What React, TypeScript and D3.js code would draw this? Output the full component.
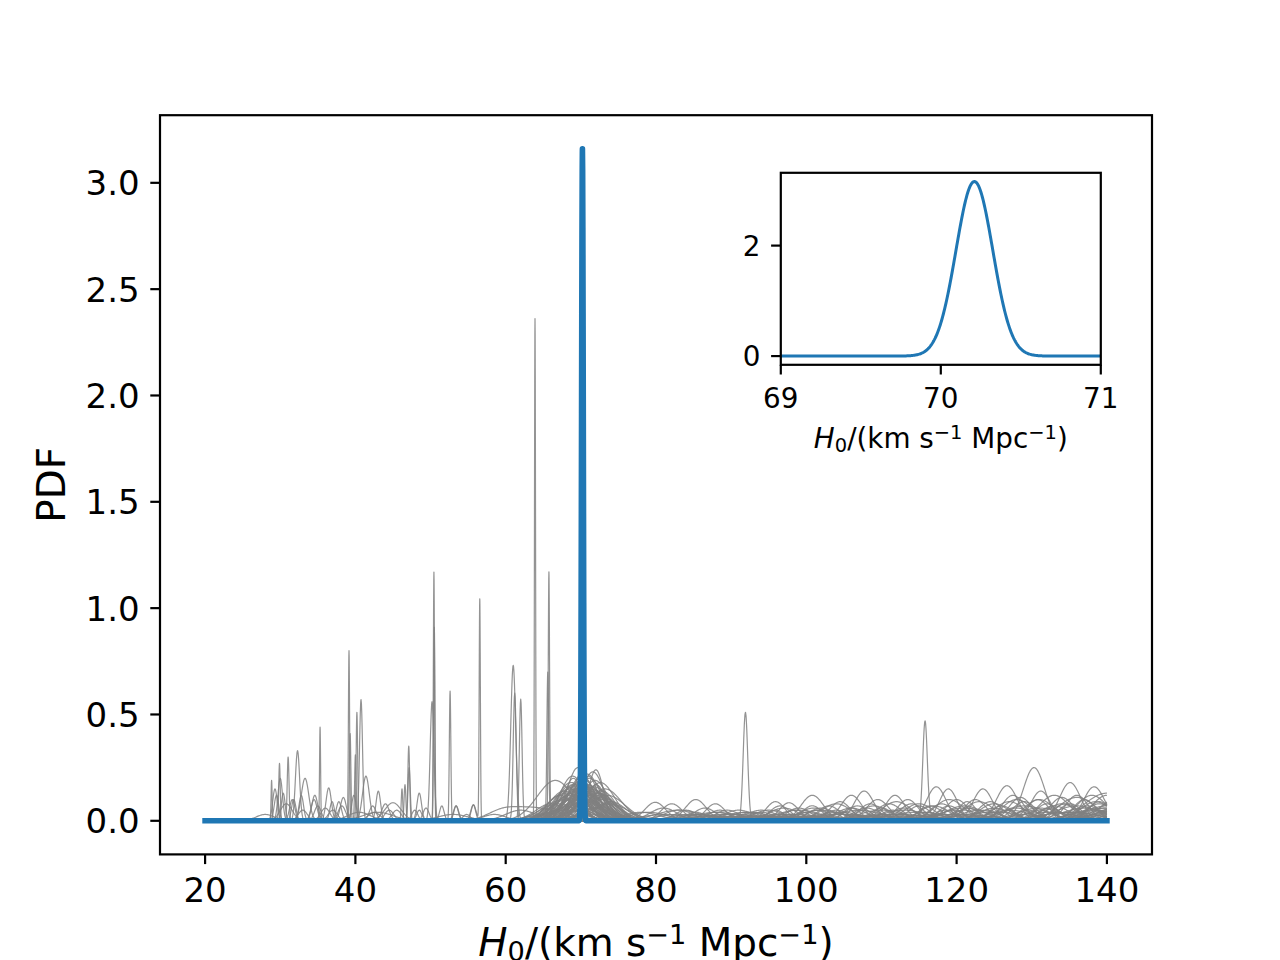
import React from 'react';
import * as d3 from 'd3';

const W = 1280;
const H = 960;

// tick values
const xTicks = [20, 40, 60, 80, 100, 120, 140];
const yTicks = [0, 0.5, 1.0, 1.5, 2.0, 2.5, 3.0];
const insetXTicks = [69, 70, 71];
const insetYTicks = [0, 2];

// combined posterior: [centre, width, peak height]
const bluePeak: number[] = [70.21, 0.115, 3.16];

// individual event PDFs, each a list of bumps [centre, width, peak height]
const spikeCurves: number[][][] = [
  [[63.9, 0.07, 2.35], [67, 2, 0.04], [110, 5, 0.02]],
  [[65.75, 0.09, 1.17], [72, 2, 0.06], [98, 5, 0.02]],
  [[50.45, 0.08, 1.17], [48.5, 0.35, 0.05]],
  [[50.5, 0.09, 0.91], [53.4, 0.35, 0.07]],
  [[56.55, 0.08, 1.04], [55.7, 0.35, 0.075]],
  [[61.0, 0.33, 0.73], [68, 2.5, 0.05]],
  [[61.2, 0.2, 0.6], [70, 2, 0.05]],
  [[62.0, 0.18, 0.57], [66, 1.5, 0.06]],
  [[65.6, 0.12, 0.68], [69, 2, 0.08]],
  [[39.15, 0.08, 0.8], [42.5, 0.8, 0.04]],
  [[39.3, 0.1, 0.41], [37, 0.6, 0.05]],
  [[40.2, 0.1, 0.51], [44.5, 0.6, 0.05]],
  [[40.75, 0.2, 0.57], [43.05, 0.3, 0.14]],
  [[35.3, 0.07, 0.44], [33, 0.6, 0.05]],
  [[32.3, 0.28, 0.33], [34.5, 0.4, 0.1]],
  [[31.05, 0.12, 0.3], [29.5, 0.3, 0.12]],
  [[29.9, 0.1, 0.27], [31.8, 0.3, 0.1]],
  [[28.85, 0.07, 0.19], [30.4, 0.25, 0.13]],
  [[52.6, 0.1, 0.61], [54.8, 0.5, 0.03]],
  [[50.2, 0.25, 0.56], [47.9, 0.4, 0.05]],
  [[47.1, 0.12, 0.35], [45.5, 0.6, 0.05]],
  [[47.15, 0.15, 0.25], [46.2, 0.1, 0.15]],
  [[91.9, 0.3, 0.51], [95.9, 1.2, 0.05], [120, 5, 0.02]],
  [[115.8, 0.3, 0.46], [118.5, 1.5, 0.05], [100, 5, 0.02]],
  [[40.0, 0.1, 0.31], [38.2, 0.5, 0.07]],
  [[46.6, 0.12, 0.17], [41.4, 0.45, 0.21]],
];

const leftCurves: number[][][] = [
  [[33.3, 0.5, 0.2], [36.0, 0.6, 0.06]],
  [[36.45, 0.35, 0.155], [30.0, 0.3, 0.2]],
  [[34.6, 0.4, 0.12], [37.8, 0.35, 0.09]],
  [[38.4, 0.4, 0.11], [42.3, 0.45, 0.07]],
  [[45.0, 1.1, 0.085], [48.5, 0.3, 0.13]],
  [[31.6, 0.35, 0.1], [35.0, 0.45, 0.07]],
  [[51.5, 0.3, 0.07], [58.5, 1.5, 0.03]],
  [[29.3, 0.3, 0.15], [32.8, 0.3, 0.12]],
  [[36.9, 0.3, 0.09], [39.8, 0.3, 0.12]],
  [[28, 1.2, 0.03], [43, 2, 0.04], [53, 2, 0.03]],
  [[30.8, 0.8, 0.08], [40.5, 1.5, 0.04]],
  [[44.0, 0.5, 0.08], [49.4, 0.4, 0.06]],
  [[53.4, 0.3, 0.07], [59.5, 2, 0.04], [64, 3, 0.06]],
  [[55.7, 0.3, 0.075], [62, 2, 0.05]],
];

const broadCurves: number[][][] = [
  [[69.6, 1.4, 0.25], [78, 2.5, 0.04], [85.3, 1.3, 0.04], [112, 4, 0.03]],
  [[71.6, 1.5, 0.23], [100.8, 1.3, 0.07], [126.7, 1.5, 0.05], [88, 5, 0.02]],
  [[70.8, 1.8, 0.22], [106.0, 1.2, 0.06], [135.1, 1.5, 0.08], [120, 5, 0.03]],
  [[68.9, 1.7, 0.21], [121.4, 1.2, 0.09], [146, 3, 0.1], [95, 6, 0.02]],
  [[66.6, 2.4, 0.19], [130.3, 1.4, 0.25], [110, 6, 0.02]],
  [[72.6, 1.9, 0.18], [146, 3, 0.24], [118, 5, 0.03]],
  [[70.2, 2.4, 0.16], [117.3, 1.3, 0.16], [98, 1.5, 0.03], [135, 4, 0.04]],
  [[69.0, 1.2, 0.2], [107.7, 1.3, 0.14], [79, 2.5, 0.04]],
  [[71.0, 1.3, 0.21], [111.8, 1.3, 0.12], [90, 2, 0.02], [132, 4, 0.04]],
  [[67.8, 2.0, 0.14], [118.9, 1.2, 0.15], [83, 3, 0.03]],
  [[73.2, 2.2, 0.15], [123.5, 1.3, 0.15], [104, 5, 0.03]],
  [[70.4, 1.6, 0.2], [126.7, 1.4, 0.165], [92, 5, 0.02]],
  [[69.2, 2.0, 0.17], [135.1, 1.4, 0.18], [112, 5, 0.03]],
  [[71.9, 1.7, 0.19], [138.3, 1.4, 0.16], [86, 3, 0.03]],
  [[68.3, 1.5, 0.16], [100.8, 1.5, 0.12], [131.2, 1.3, 0.14]],
  [[70.0, 1.1, 0.22], [106, 1.4, 0.12], [125, 5, 0.04]],
  [[72.2, 2.5, 0.13], [95.9, 1.3, 0.09], [121, 2, 0.05], [140, 3, 0.06]],
  [[67.2, 1.8, 0.12], [97.7, 1.3, 0.085], [128, 2, 0.06]],
  [[69.8, 1.9, 0.18], [79.9, 1.4, 0.087], [116, 2, 0.04], [138, 3, 0.05]],
  [[71.3, 2.1, 0.15], [82.1, 1.4, 0.08], [133, 2, 0.07], [105, 4, 0.03]],
  [[70.6, 1.4, 0.19], [87.9, 1.3, 0.08], [125, 2, 0.06]],
  [[68.5, 2.2, 0.15], [85.3, 1.4, 0.1], [140, 2, 0.12], [110, 4, 0.03]],
  [[73.0, 1.5, 0.12], [92, 2, 0.04], [110, 1.5, 0.06], [146, 3, 0.13]],
  [[69.4, 2.6, 0.14], [103, 1.5, 0.07], [119, 1.5, 0.07], [135, 4, 0.04]],
  [[70.9, 2.0, 0.17], [108, 1.8, 0.06], [137, 1.5, 0.1]],
  [[67.9, 1.3, 0.11], [114, 1.6, 0.08], [129, 1.6, 0.09], [90, 5, 0.03]],
  [[71.7, 2.3, 0.16], [99, 1.6, 0.06], [122.5, 1.5, 0.1]],
  [[69.9, 1.7, 0.2], [104.5, 1.4, 0.09], [134, 1.6, 0.11], [81, 3, 0.03]],
  [[72.8, 1.8, 0.14], [88.5, 1.5, 0.05], [113.5, 1.4, 0.1], [140, 3, 0.07]],
  [[68.1, 2.6, 0.13], [95, 2, 0.05], [127.5, 1.5, 0.12]],
  [[70.3, 1.3, 0.18], [101.5, 1.5, 0.05], [146, 3, 0.15], [120, 5, 0.03]],
  [[71.1, 1.9, 0.2], [84, 1.5, 0.05], [118, 1.6, 0.08], [139, 1.5, 0.09]],
  [[69.1, 2.3, 0.16], [109.5, 1.5, 0.1], [132, 1.5, 0.08]],
  [[70.7, 2.7, 0.12], [91, 2, 0.05], [124.5, 1.6, 0.09], [140, 3, 0.05]],
  [[72.0, 1.4, 0.17], [96.5, 1.4, 0.07], [136, 1.5, 0.12]],
  [[68.7, 1.9, 0.18], [106.8, 1.6, 0.07], [146, 3, 0.12], [85, 3, 0.03]],
  [[70.1, 2.1, 0.15], [81, 1.8, 0.06], [115, 1.5, 0.07], [130.8, 1.5, 0.1]],
  [[71.4, 1.6, 0.16], [102, 1.8, 0.06], [120, 1.5, 0.1], [140, 4, 0.06]],
  [[69.6, 2.8, 0.11], [93, 2, 0.04], [111, 1.7, 0.08], [141, 2, 0.1]],
  [[67.5, 2.2, 0.1], [86.5, 1.5, 0.06], [126, 1.6, 0.07]],
  [[73.5, 2.4, 0.12], [104, 1.6, 0.05], [134.5, 1.7, 0.08]],
  [[70.0, 1.8, 0.19], [116.5, 1.6, 0.07], [146, 3, 0.09]],
  [[71.8, 2.0, 0.14], [98.5, 1.8, 0.05], [128.5, 1.5, 0.11]],
  [[68.9, 1.6, 0.17], [89.5, 1.6, 0.05], [108.5, 1.5, 0.08], [137.5, 1.6, 0.07]],
  [[70.5, 2.2, 0.14], [121.5, 1.6, 0.06], [146, 3, 0.07]],
  [[72.4, 1.7, 0.13], [83, 2, 0.05], [113, 1.8, 0.06], [132.5, 1.6, 0.06]],
  [[69.3, 1.5, 0.15], [94, 1.8, 0.04], [124, 1.7, 0.05], [145, 3, 0.06]],
  [[70.8, 2.5, 0.1], [105, 2, 0.04], [139, 2, 0.08]],
  [[66.0, 2.0, 0.08], [100, 2, 0.04], [119.5, 1.6, 0.05]],
  [[74.0, 2.0, 0.09], [88, 2, 0.04], [111.5, 1.6, 0.05], [129.5, 1.7, 0.05]],
  [[69.0, 3.0, 0.07], [98, 4, 0.03], [127, 3, 0.05]],
  [[71.5, 3.2, 0.06], [90, 4, 0.03], [137, 3, 0.06]],
  [[68.0, 3.5, 0.05], [115, 4, 0.04]],
  [[72.0, 1.0, 0.24], [103.5, 2, 0.04], [131, 2, 0.05]],
  [[70.6, 1.2, 0.2], [96, 3, 0.03], [123, 2.5, 0.05]],
];

const rightCurves: number[][][] = [
  [[71.0, 2.0, 0.1], [128, 2, 0.1], [146, 4, 0.14]],
  [[69.5, 2.0, 0.12], [112, 2, 0.09], [140, 3, 0.13]],
  [[72.5, 2.5, 0.1], [119, 2, 0.1], [138, 2, 0.12]],
  [[68.0, 2.0, 0.1], [104, 2, 0.08], [133, 2, 0.12]],
  [[70.5, 1.6, 0.14], [123, 2, 0.09], [146, 5, 0.1]],
  [[71.2, 2.0, 0.12], [109, 2, 0.07], [136, 2.5, 0.11]],
  [[69.8, 2.2, 0.13], [97, 2, 0.06], [127, 2, 0.09], [146, 4, 0.12]],
  [[72.9, 2.0, 0.11], [115, 2, 0.08], [142, 3, 0.1]],
  [[70.2, 1.5, 0.17], [101, 2, 0.06], [131, 2, 0.1]],
  [[68.6, 2.4, 0.12], [121, 2.5, 0.07], [146, 5, 0.11]],
  [[71.6, 1.8, 0.15], [106, 2, 0.06], [138.5, 2, 0.09]],
  [[69.9, 2.6, 0.1], [88, 3, 0.04], [117, 2, 0.07], [146, 4, 0.08]],
  [[70.9, 1.7, 0.16], [94, 2, 0.05], [125, 2, 0.08]],
  [[73.8, 2.5, 0.08], [102, 3, 0.05], [134, 2, 0.08]],
  [[67.0, 2.5, 0.08], [110, 3, 0.05], [146, 5, 0.09]],
  [[70.4, 2.0, 0.13], [83, 3, 0.05], [129, 3, 0.07]],
  [[71.9, 2.4, 0.11], [99, 3, 0.05], [142, 3, 0.07]],
  [[69.3, 1.8, 0.15], [113, 3, 0.05], [136, 3, 0.07]],
  [[70.7, 3.0, 0.09], [92, 3, 0.04], [121, 3, 0.06], [146, 5, 0.07]],
  [[72.3, 1.6, 0.12], [107, 3, 0.05], [131, 3, 0.06]],
];

const allGray = [...broadCurves, ...rightCurves, ...leftCurves, ...spikeCurves];

function density(comps: number[][], x: number): number {
  let s = 0;
  for (const [m, sd, a] of comps) {
    const z = (x - m) / sd;
    if (Math.abs(z) < 10) s += a * Math.exp(-0.5 * z * z);
  }
  return s;
}

function gridFor(comps: number[][], lo: number, hi: number, step: number): number[] {
  const xs: number[] = d3.range(lo, hi + step / 2, step);
  for (const [m, sd] of comps) {
    if (m > lo && m < hi) {
      xs.push(m);
      if (sd < 0.5) {
        for (let k = -4; k <= 4; k += 0.25) {
          const v = m + k * sd;
          if (v > lo && v < hi) xs.push(v);
        }
      }
    }
  }
  xs.sort((a, b) => a - b);
  return xs;
}

const FONT = 'DejaVu Sans, Liberation Sans, sans-serif';

// main axes box (matplotlib default subplot params for 6.4x4.8 @200dpi)
const L = 160, R = 1152, T = 115.2, B = 854.4;
// inset axes box
const IL = 780.8, IR = 1100.8, IT = 172.8, IB = 364.8;

function MathLabel({ x, y, size }: { x: number; y: number; size: number }) {
  const sub = size * 0.7;
  return (
    <text x={x} y={y} fontSize={size} fontFamily={FONT} textAnchor="middle" fill="#000">
      <tspan fontStyle="italic">H</tspan>
      <tspan fontSize={sub} dy={size * 0.14}>0</tspan>
      <tspan dy={-size * 0.14}>/(km s</tspan>
      <tspan fontSize={sub} dy={-size * 0.32}>−1</tspan>
      <tspan dy={size * 0.32}> Mpc</tspan>
      <tspan fontSize={sub} dy={-size * 0.32}>−1</tspan>
      <tspan dy={size * 0.32}>)</tspan>
    </text>
  );
}

export default function App() {
  const x = d3.scaleLinear().domain([14, 146]).range([L, R]);
  const y = d3.scaleLinear().domain([-0.158, 3.318]).range([B, T]);
  const ix = d3.scaleLinear().domain([69, 71]).range([IL, IR]);
  const iy = d3.scaleLinear().domain([-0.158, 3.318]).range([IB, IT]);

  const line = d3.line<[number, number]>().x(d => x(d[0])).y(d => y(d[1]));
  const iline = d3.line<[number, number]>().x(d => ix(d[0])).y(d => iy(d[1]));

  const grayPaths = allGray.map(comps => {
    const xs = gridFor(comps, 20, 140, 0.08);
    return line(xs.map(v => [v, density(comps, v)] as [number, number])) || '';
  });

  const blueComps = [bluePeak];
  const blueXs = gridFor(blueComps, 20, 140, 0.1);
  const bluePath = line(blueXs.map(v => [v, density(blueComps, v)] as [number, number])) || '';
  const insetXs = d3.range(69, 71.0001, 0.004);
  const insetPath = iline(insetXs.map(v => [v, density(blueComps, v)] as [number, number])) || '';

  const TICK = 9.7;
  const tickW = 2.2;
  const mainTick = 34;
  const insetTick = 27.8;

  return (
    <svg width={W} height={H} viewBox={`0 0 ${W} ${H}`} style={{ display: 'block', position: 'absolute', left: 0, top: 0, background: '#fff' }}>
      <rect x={0} y={0} width={W} height={H} fill="#fff" />
      {/* main axes */}
      <g>
        {grayPaths.map((d, i) => (
          <path key={i} d={d} fill="none" stroke="#808080" strokeWidth={1.2} strokeOpacity={0.85} strokeLinejoin="round" />
        ))}
        <path d={bluePath} fill="none" stroke="#1f77b4" strokeWidth={5.6} strokeLinejoin="round" strokeLinecap="square" />
        <rect x={L} y={T} width={R - L} height={B - T} fill="none" stroke="#000" strokeWidth={tickW} />
        {xTicks.map(t => (
          <g key={'x' + t}>
            <line x1={x(t)} x2={x(t)} y1={B} y2={B + TICK} stroke="#000" strokeWidth={tickW} />
            <text x={x(t)} y={902} fontSize={mainTick} fontFamily={FONT} textAnchor="middle">{t}</text>
          </g>
        ))}
        {yTicks.map(t => (
          <g key={'y' + t}>
            <line x1={L - TICK} x2={L} y1={y(t)} y2={y(t)} stroke="#000" strokeWidth={tickW} />
            <text x={L - 2 * TICK - 1} y={y(t) + 12.4} fontSize={mainTick} fontFamily={FONT} textAnchor="end">{t.toFixed(1)}</text>
          </g>
        ))}
        <MathLabel x={(L + R) / 2} y={956} size={38.9} />
        <text transform={`translate(65,${(T + B) / 2}) rotate(-90)`} fontSize={38.9} fontFamily={FONT} textAnchor="middle">PDF</text>
      </g>
      {/* inset axes */}
      <g>
        <rect x={IL} y={IT} width={IR - IL} height={IB - IT} fill="#fff" />
        <defs>
          <clipPath id="insetClip">
            <rect x={IL} y={IT} width={IR - IL} height={IB - IT} />
          </clipPath>
        </defs>
        <path d={insetPath} fill="none" stroke="#1f77b4" strokeWidth={3} strokeLinejoin="round" clipPath="url(#insetClip)" />
        <rect x={IL} y={IT} width={IR - IL} height={IB - IT} fill="none" stroke="#000" strokeWidth={tickW} />
        {insetXTicks.map(t => (
          <g key={'ix' + t}>
            <line x1={ix(t)} x2={ix(t)} y1={IB} y2={IB + TICK} stroke="#000" strokeWidth={tickW} />
            <text x={ix(t)} y={408} fontSize={insetTick} fontFamily={FONT} textAnchor="middle">{t}</text>
          </g>
        ))}
        {insetYTicks.map(t => (
          <g key={'iy' + t}>
            <line x1={IL - TICK} x2={IL} y1={iy(t)} y2={iy(t)} stroke="#000" strokeWidth={tickW} />
            <text x={IL - 2 * TICK - 1} y={iy(t) + 10.1} fontSize={insetTick} fontFamily={FONT} textAnchor="end">{t}</text>
          </g>
        ))}
        <MathLabel x={(IL + IR) / 2} y={448} size={27.8} />
      </g>
    </svg>
  );
}
